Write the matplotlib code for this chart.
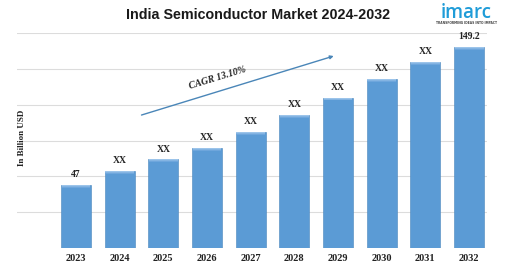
import matplotlib
matplotlib.use("Agg")
import matplotlib.pyplot as plt
import numpy as np

years = ["2023", "2024", "2025", "2026", "2027", "2028", "2029", "2030", "2031", "2032"]
values = [47, 57.2, 65.7, 74.2, 86.1, 98.7, 111.7, 125.5, 138.1, 149.2]
bar_labels = ["47", "XX", "XX", "XX", "XX", "XX", "XX", "XX", "XX", "149.2"]
title = "India Semiconductor Market 2024-2032"
y_label = "In Billion USD"
cagr_text = "CAGR 13.10%"

BAR_COLOR = "#5b9bd5"
SERIF = ["Liberation Serif", "DejaVu Serif"]

fig = plt.figure(figsize=(5.12, 2.62), dpi=100)
ax = fig.add_axes([17 / 512, 14 / 262, 470 / 512, 215 / 262])

x = np.arange(len(years))
y_top = 159.6
ax.set_xlim(-1.35, 9.41)
ax.set_ylim(0, y_top)

# light horizontal grid
for gy in np.linspace(y_top, 0, 7)[:-1]:
    ax.axhline(gy, color="#dcdcdc", lw=0.8, zorder=0)

ax.bar(x, values, width=0.69, color=BAR_COLOR, edgecolor="#4a86bd", lw=0.4, zorder=2)
# soft bevel at the top of each bar
bevel = 2.2
for k, c in enumerate(["#9cc4ea", "#84b4e2", "#6ea6dc"]):
    ax.bar(x, bevel / 3, bottom=np.array(values) - bevel / 3 * (k + 1),
           width=0.66, color=c, lw=0, zorder=3)

for xi, v, lab in zip(x, values, bar_labels):
    ax.annotate(lab, (xi, v), xytext=(0, 4), textcoords="offset points",
                ha="center", va="bottom", fontsize=7, fontweight="bold",
                family=SERIF, color="#222222")

ax.set_xticks(x)
ax.set_xticklabels(years, fontsize=7.5, fontweight="bold", family=SERIF, color="#222222")
ax.tick_params(axis="x", length=0, pad=4.5)
ax.set_yticks([])
for s in ax.spines.values():
    s.set_visible(False)

fig.text(22 / 512, 1 - 138 / 262, y_label, rotation=90, ha="center", va="center",
         fontsize=6.5, fontweight="bold", family=SERIF, color="#222222")

# CAGR arrow
ax.annotate("", xy=(5.9, 142.5), xytext=(1.5, 98.7),
            arrowprops=dict(arrowstyle="-|>", color="#4a86b8", lw=1.0,
                            mutation_scale=5, shrinkA=0, shrinkB=0), zorder=4)
ax.text(3.25, 126, cagr_text, rotation=17, ha="center", va="center",
        fontsize=7, fontweight="bold", fontstyle="italic", family=SERIF, color="#222222")

fig.text(258 / 512, 1 - 15 / 262, title, ha="center", va="center",
         fontsize=10.3, fontweight="bold", family="Liberation Sans", color="#1a1a1a")

# logo
fig.text(466 / 512, 1 - 13 / 262, "imarc", ha="center", va="center",
         fontsize=13.5, fontweight="semibold", family=["Open Sans", "DejaVu Sans"],
         color="#1f9cd8")
fig.text(466 / 512, 1 - 23.5 / 262, "TRANSFORMING IDEAS INTO IMPACT", ha="center",
         va="center", fontsize=2.2, fontweight="bold", family="DejaVu Sans", color="#444444")

fig.savefig("out.png", dpi=100)
